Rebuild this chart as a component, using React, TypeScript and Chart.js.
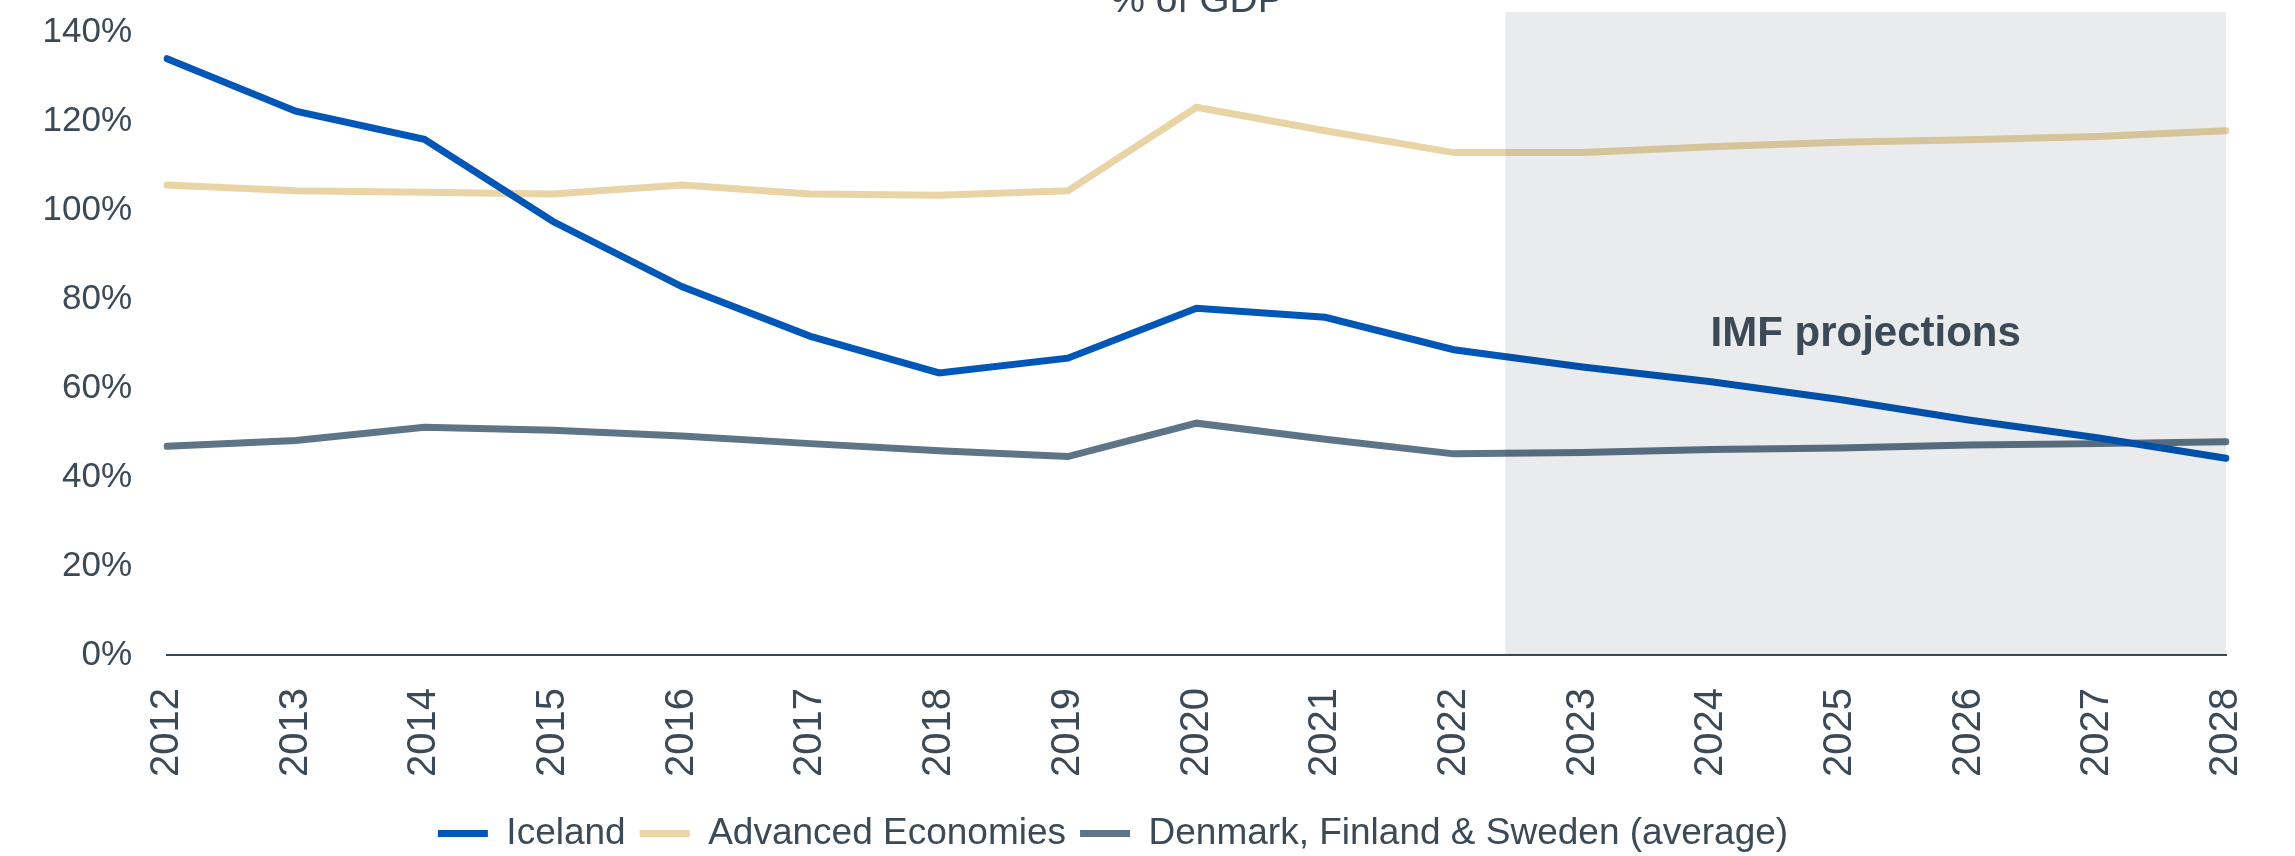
import React, { useEffect, useRef } from "react";
import { Chart, registerables } from "chart.js";

Chart.register(...registerables);

const years = ["2012","2013","2014","2015","2016","2017","2018","2019","2020","2021","2022","2023","2024","2025","2026","2027","2028"];
const iceland = [134, 122.2, 115.9, 97.4, 82.8, 71.6, 63.4, 66.7, 77.9, 75.9, 68.6, 64.7, 61.4, 57.4, 52.8, 48.8, 44.2];
const advanced = [105.6, 104.3, 104, 103.6, 105.6, 103.6, 103.3, 104.3, 123.1, 117.8, 112.9, 112.9, 114.2, 115.2, 115.8, 116.5, 117.8];
const nordic = [46.9, 48.2, 51.2, 50.5, 49.2, 47.5, 45.9, 44.6, 52.1, 48.5, 45.2, 45.5, 46.2, 46.5, 47.2, 47.5, 47.9];
const yTicks = [0, 20, 40, 60, 80, 100, 120, 140];
const projectionStart = 10.4; // category index where the projection shading begins
const projectionEnd = 16;
const shadeTop = 144.5;
const annotationX = 13.2;
const annotationY = 72;
const titleText = "% of GDP";
const annotationText = "IMF projections";

const TEXT = "#3b4a56";
const FONT = "'Liberation Sans', Arial, sans-serif";

const overlay = {
  id: "overlay",
  afterDatasetsDraw(chart: any) {
    const { ctx, scales } = chart;
    const x = scales.x, y = scales.y;
    const x0 = x.getPixelForValue(projectionStart);
    const x1 = x.getPixelForValue(projectionEnd);
    const y0 = y.getPixelForValue(shadeTop);
    const y1 = y.getPixelForValue(0);
    ctx.save();
    ctx.globalCompositeOperation = "multiply";
    ctx.fillStyle = "#e9ebed";
    ctx.fillRect(x0, y0, x1 - x0, y1 - y0);
    ctx.restore();

    ctx.save();
    ctx.fillStyle = TEXT;
    ctx.font = `bold 42px ${FONT}`;
    ctx.textAlign = "center";
    ctx.textBaseline = "middle";
    ctx.fillText(annotationText, x.getPixelForValue(annotationX), y.getPixelForValue(annotationY));
    ctx.font = `39px ${FONT}`;
    ctx.textBaseline = "alphabetic";
    ctx.fillText(titleText, 1197, 12);
    ctx.restore();
  },
};

export default function App() {
  const ref = useRef<HTMLCanvasElement | null>(null);
  useEffect(() => {
    if (!ref.current) return;
    const common = {
      fill: false,
      tension: 0,
      pointRadius: 0,
      pointHoverRadius: 0,
      borderWidth: 7,
      borderCapStyle: "round",
    };
    const chart = new Chart(ref.current, {
      type: "line",
      data: {
        labels: years,
        datasets: [
          { ...common, label: "Iceland", data: iceland, borderColor: "#0057b7", backgroundColor: "#0057b7" },
          { ...common, label: "Advanced Economies", data: advanced, borderColor: "#e9d4a5", backgroundColor: "#e9d4a5" },
          { ...common, label: "Denmark, Finland & Sweden (average)", data: nordic, borderColor: "#5e7487", backgroundColor: "#5e7487" },
        ],
      } as any,
      options: {
        animation: false,
        responsive: true,
        maintainAspectRatio: false,
        layout: { padding: { top: 32, right: 69, bottom: -6, left: 0 } },
        plugins: {
          tooltip: { enabled: false },
          title: { display: false },
          legend: {
            position: "bottom",
            labels: {
              usePointStyle: true,
              pointStyle: "line",
              pointStyleWidth: 50,
              color: TEXT,
              padding: 14,
              font: { family: FONT, size: 37 },
            },
          },
        },
        scales: {
          x: {
            type: "category",
            offset: false,
            z: 1,
            grid: { display: false, drawTicks: true, tickLength: 33 },
            border: { display: true, color: TEXT, width: 2 },
            ticks: {
              autoSkip: false,
              minRotation: 90,
              maxRotation: 90,
              padding: 0,
              color: TEXT,
              font: { family: FONT, size: 40 },
            },
            afterFit: (s: any) => { s.height = 146; },
          },
          y: {
            min: 0,
            max: 140,
            grid: { display: false, drawTicks: true, tickLength: 35 },
            border: { display: false },
            afterBuildTicks: (s: any) => { s.ticks = yTicks.map((v) => ({ value: v })); },
            ticks: {
              padding: 0,
              color: TEXT,
              font: { family: FONT, size: 35 },
              callback: (v: any) => `${v}%`,
            },
            afterFit: (s: any) => { s.width = 167; },
          },
        },
      } as any,
      plugins: [overlay],
    });
    return () => chart.destroy();
  }, []);
  return (
    <div style={{ position: "fixed", left: 0, top: 0, width: 2295, height: 856, background: "#fff" }}>
      <canvas ref={ref} />
    </div>
  );
}
